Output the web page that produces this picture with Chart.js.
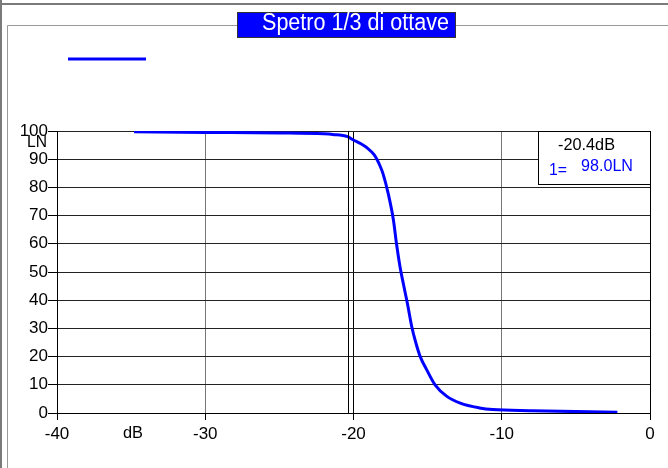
<!DOCTYPE html>
<html>
<head>
<meta charset="utf-8">
<script src="https://cdn.jsdelivr.net/npm/chart.js@4"></script>
<style>
  body { margin: 0; background: #fff; }
  canvas { display: block; }
</style>
</head>
<body>
<canvas id="spettro" width="668" height="468"></canvas>
<script>
// valori (dB, LN)
const dbValues = [-34.8, -30, -25, -22, -21.4, -20.4, -20.0, -19.5, -19.1, -18.6, -18.2, -18.0, -17.65, -17.3, -17.1, -16.86, -16.64, -16.37, -16.07, -15.8, -15.5, -15.06, -14.5, -13.7, -12.8, -11.5, -10.6, -8, -5, -2.2];
const lnValues = [99.7, 99.5, 99.3, 99.0, 98.8, 98.0, 96.8, 95.5, 94.1, 91.5, 87.5, 84.7, 77.6, 68.2, 60.0, 51.8, 45.9, 39.0, 30.6, 25.0, 20.0, 15.3, 10.0, 5.9, 3.5, 1.8, 1.2, 0.8, 0.5, 0.3];
const xTicks = [-40, -30, -20, -10, 0];
const yTicks = [0, 10, 20, 30, 40, 50, 60, 70, 80, 90, 100];

const titolo = "Spetro 1/3 di ottave";
const cursoreDb = -20.4;
const cursoreLn = 98.0;

const FONT = "'Liberation Sans Narrow', 'Arial Narrow', 'Liberation Sans', Arial, sans-serif";
const BLU = "#0000ff";

const points = dbValues.map((d, i) => ({ x: d, y: lnValues[i] }));

// scrive un testo compresso alla larghezza voluta
function testoStretto(ctx, txt, x, y, larghezza) {
  const w = ctx.measureText(txt).width;
  const k = larghezza ? larghezza / w : 1;
  ctx.save();
  ctx.translate(x, y);
  ctx.scale(k, 1);
  ctx.fillText(txt, 0, 0);
  ctx.restore();
}

const decor = {
  id: "decor",
  afterDraw(chart) {
    const ctx = chart.ctx;
    const a = chart.chartArea;
    const sx = chart.scales.x;
    ctx.save();

    // cornice esterna
    ctx.fillStyle = "#7a7a7a";
    ctx.fillRect(0, 3, 668, 2);
    ctx.fillRect(0, 0, 2, 468);

    // pannello
    ctx.strokeStyle = "#999";
    ctx.lineWidth = 1;
    ctx.beginPath();
    ctx.moveTo(7.5, 468);
    ctx.lineTo(7.5, 25.5);
    ctx.lineTo(668, 25.5);
    ctx.stroke();

    // titolo
    ctx.fillStyle = BLU;
    ctx.fillRect(237, 12, 218, 25);
    ctx.strokeStyle = "#333";
    ctx.strokeRect(237.5, 12.5, 218, 25);
    ctx.fillStyle = "#fff";
    ctx.font = "23px " + FONT;
    ctx.textAlign = "left";
    ctx.textBaseline = "alphabetic";
    testoStretto(ctx, titolo, 262, 30, 187);

    // legenda
    ctx.strokeStyle = BLU;
    ctx.lineWidth = 3;
    ctx.beginPath();
    ctx.moveTo(68, 59);
    ctx.lineTo(146, 59);
    ctx.stroke();

    // titoli assi
    ctx.fillStyle = "#000";
    ctx.font = "16px " + FONT;
    ctx.textBaseline = "middle";
    testoStretto(ctx, "LN", 27, 143, 20);
    testoStretto(ctx, "dB", 123, 434, 20);

    // cursore
    const cx = Math.round(sx.getPixelForValue(cursoreDb)) + 0.5;
    ctx.strokeStyle = "#000";
    ctx.lineWidth = 1;
    ctx.beginPath();
    ctx.moveTo(cx, a.top);
    ctx.lineTo(cx, a.bottom);
    ctx.stroke();

    // riquadro valori
    const bx = 538, by = a.top, bw = a.right - bx, bh = 53;
    ctx.fillStyle = "#fff";
    ctx.fillRect(bx, by, bw, bh);
    ctx.strokeStyle = "#000";
    ctx.strokeRect(bx + 0.5, by + 0.5, bw, bh);
    ctx.font = "17px " + FONT;
    ctx.fillStyle = "#000";
    testoStretto(ctx, cursoreDb.toFixed(1) + "dB", 558, by + 14, 57);
    ctx.fillStyle = BLU;
    testoStretto(ctx, "1=", 549, by + 39, 18);
    testoStretto(ctx, cursoreLn.toFixed(1) + "LN", 581, by + 35, 52);

    ctx.restore();
  },
};

new Chart(document.getElementById("spettro").getContext("2d"), {
  type: "line",
  data: {
    datasets: [
      {
        label: "1",
        data: points,
        borderColor: BLU,
        borderWidth: 3,
        pointRadius: 0,
        fill: false,
        cubicInterpolationMode: "monotone",
      },
    ],
  },
  options: {
    responsive: false,
    animation: false,
    layout: { padding: { left: 0, right: 18, top: 131, bottom: 0 } },
    plugins: {
      legend: { display: false },
      tooltip: { enabled: false },
    },
    scales: {
      x: {
        type: "linear",
        min: -40,
        max: 0,
        afterBuildTicks(s) { s.ticks = xTicks.map(v => ({ value: v })); },
        afterFit(s) { s.height = 55; },
        ticks: {
          color: "#000",
          font: { family: FONT, size: 17 },
          padding: 4,
          maxRotation: 0,
        },
        grid: {
          color: c => (c.tick && (c.tick.value === -20 || c.tick.value === 0)) ? "#000" : "#777",
          tickColor: "#000",
          tickLength: 7,
        },
        border: { color: "#000" },
      },
      y: {
        min: 0,
        max: 100,
        afterBuildTicks(s) { s.ticks = yTicks.map(v => ({ value: v })); },
        afterFit(s) { s.width = 57; },
        ticks: {
          color: "#000",
          font: { family: FONT, size: 17 },
          padding: 0,
        },
        grid: {
          color: "#222",
          tickColor: "#000",
          tickLength: 9,
        },
        border: { color: "#000" },
      },
    },
  },
  plugins: [decor],
});
</script>
</body>
</html>
